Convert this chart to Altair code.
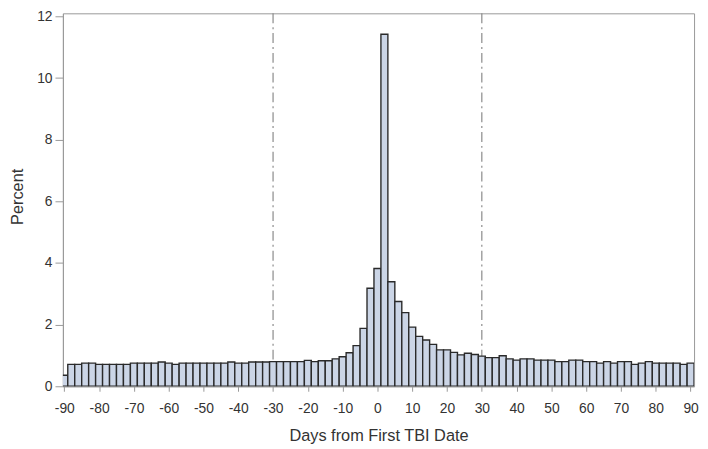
import altair as alt
import pandas as pd

# Bin centres (2-day bins) and percentages
days = list(range(-90, 91, 2))
percent = [
    0.36, 0.71, 0.71, 0.75, 0.75, 0.71, 0.71, 0.71, 0.71, 0.71,   # -90 .. -72
    0.75, 0.75, 0.75, 0.75, 0.79, 0.75, 0.71, 0.75, 0.75, 0.75,   # -70 .. -52
    0.75, 0.75, 0.75, 0.75, 0.79, 0.75, 0.75, 0.79, 0.79, 0.79,   # -50 .. -32
    0.80, 0.80, 0.80, 0.80, 0.80, 0.84, 0.80, 0.83, 0.83, 0.89,   # -30 .. -12
    0.96, 1.09, 1.32, 1.88, 3.18, 3.82, 11.42, 3.39, 2.75, 2.39,  # -10 .. 8
    1.92, 1.62, 1.50, 1.36, 1.18, 1.18, 1.10, 1.02, 1.07, 1.03,   # 10 .. 28
    0.98, 0.93, 0.93, 0.99, 0.89, 0.85, 0.89, 0.89, 0.85, 0.85,   # 30 .. 48
    0.85, 0.80, 0.80, 0.85, 0.85, 0.80, 0.80, 0.75, 0.80, 0.75,   # 50 .. 68
    0.80, 0.80, 0.71, 0.75, 0.80, 0.75, 0.75, 0.75, 0.75, 0.71,   # 70 .. 88
    0.75,                                                         # 90
]
bin_width = 2
ref_days = [-30, 30]
x_ticks = list(range(-90, 91, 10))
y_ticks = list(range(0, 13, 2))

df = pd.DataFrame({"day": days, "pct": percent})
df["lo"] = df["day"] - bin_width / 2
df["hi"] = df["day"] + bin_width / 2
ref = pd.DataFrame({"d": ref_days})

FONT = "Liberation Sans"

xscale = alt.Scale(domain=[-90.4, 91.0], nice=False, zero=False)
yscale = alt.Scale(domain=[0, 12.1], nice=False)

xaxis = alt.Axis(values=x_ticks, title="Days from First TBI Date",
                 labelExpr="'' + datum.value", labelOverlap=False,
                 grid=False, tickSize=5, labelPadding=10,
                 domainColor="#999999", tickColor="#999999",
                 labelFont=FONT, labelFontSize=14, labelColor="#333333",
                 titleFont=FONT, titleFontSize=16.5, titleFontWeight="normal",
                 titleColor="#333333", titleY=50, titleBaseline="middle")

bars = alt.Chart(df).mark_bar(
    fill="#cbd5e6", stroke="#2a2a2a", strokeWidth=1.4, clip=True
).encode(
    x=alt.X("lo:Q", scale=xscale, axis=xaxis),
    x2="hi:Q",
    y=alt.Y("pct:Q", scale=yscale,
            axis=alt.Axis(values=y_ticks, title="Percent", grid=False,
                          tickSize=8, labelPadding=3,
                          domainColor="#999999", tickColor="#999999",
                          labelFont=FONT, labelFontSize=14, labelColor="#333333",
                          titleFont=FONT, titleFontSize=16.5, titleFontWeight="normal",
                          titleColor="#333333", titleX=-46, titleY=185,
                          titleBaseline="middle")),
    y2=alt.datum(0),
)

rules = alt.Chart(ref).mark_rule(
    color="#8a8a8a", strokeWidth=1.2, strokeDash=[10, 4, 2, 4]
).encode(x=alt.X("d:Q", scale=xscale, axis=xaxis))

chart = (rules + bars).properties(
    width=638, height=377,
    autosize=alt.AutoSizeParams(type="none"),
    padding={"left": 55.5, "top": 3, "right": 6, "bottom": 60},
).configure_view(stroke="#999999", strokeWidth=1)

chart.save("out.html", embed_options={"renderer": "svg", "actions": False})
